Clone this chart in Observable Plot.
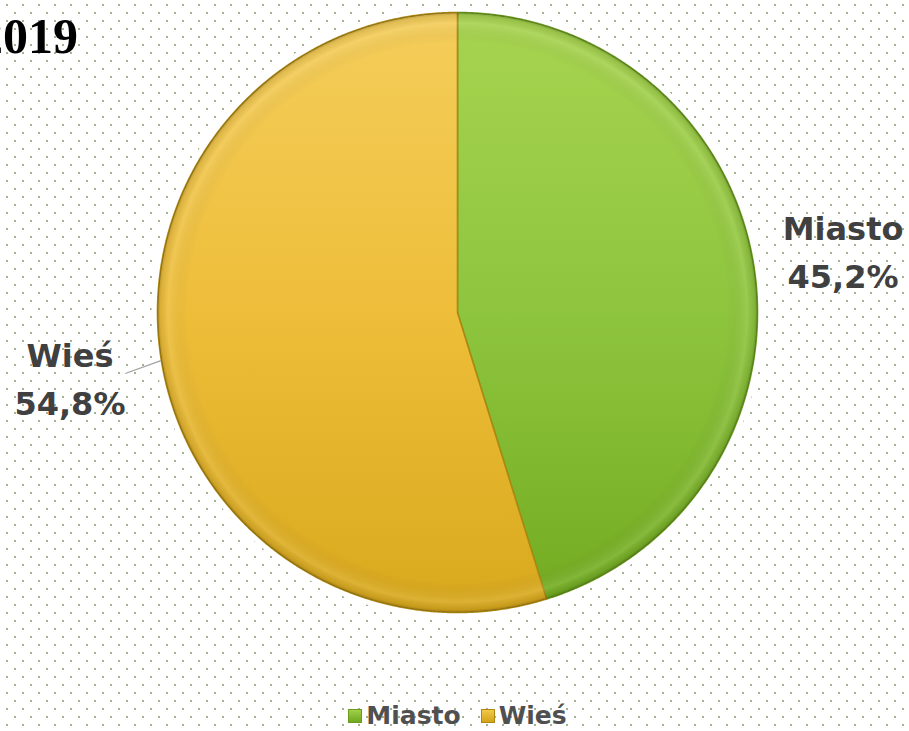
<!DOCTYPE html>
<html>
<head>
<meta charset="utf-8">
<script src="https://cdn.jsdelivr.net/npm/d3@7"></script>
<script src="https://cdn.jsdelivr.net/npm/@observablehq/plot@0.6"></script>
<style>
html, body { margin: 0; padding: 0; }
body {
  width: 909px; height: 731px; overflow: hidden; position: relative;
  background-color: #ffffff;
  background-image: url("data:image/svg+xml;utf8,<svg xmlns='http://www.w3.org/2000/svg' width='16' height='16'><rect x='6' y='4' width='2' height='2' fill='%23a3b391'/><rect x='14' y='12' width='2' height='2' fill='%23a3b391'/></svg>");
}
#title {
  position: absolute; left: -22px; top: 11px; margin: 0;
  font: bold 50px "Liberation Serif", "Times New Roman", serif; line-height: 50px;
  color: #000; white-space: nowrap;
}
#chart { position: absolute; left: 0; top: 0; }
#legend {
  position: absolute; left: 0; top: 700px; width: 909px; height: 31px;
  display: flex; justify-content: center; align-items: center; gap: 20px;
  font: bold 25px "DejaVu Sans", sans-serif; color: #505050;
  padding-left: 6px; box-sizing: border-box;
}
.item { display: flex; align-items: center; gap: 4px; }
.sw { width: 14px; height: 14px; box-sizing: border-box; }
</style>
</head>
<body>
<div id="title">2019</div>
<div id="chart"></div>
<div id="legend"></div>
<script>
// ---- data ----
const categories = ["Miasto", "Wieś"];
const values = [45.2, 54.8];
const valueLabels = ["45,2%", "54,8%"];
const title = "2019";

// ---- style ----
const sliceStyle = {
  "Miasto": { grad: "gradMiasto", stroke: "#6a9a1e", top: "#a8d450", mid: "#8ec53e", bot: "#72ab20", sw: ["#9fd048", "#6fa820"] },
  "Wieś":   { grad: "gradWies",   stroke: "#ad8812", top: "#f4cd5a", mid: "#eebe3a", bot: "#d8a81c", sw: ["#f2c848", "#d4a418"] }
};

const W = 909, H = 690, CX = 457, CY = 312, R = 300;

// pie geometry (angles from 12 o'clock, clockwise) computed from the data
const arcs = d3.pie().sort(null)(values);
const slices = arcs.map((a, i) => {
  const pts = [{ x: 0, y: 0 }];
  const n = Math.ceil((a.endAngle - a.startAngle) / 0.005);
  for (let k = 0; k <= n; k++) {
    const t = a.startAngle + (a.endAngle - a.startAngle) * k / n;
    pts.push({ x: Math.sin(t), y: Math.cos(t) });
  }
  return { cat: categories[i], pts };
});
const labels = arcs.map((a, i) => {
  const m = (a.startAngle + a.endAngle) / 2;
  return { cat: categories[i], val: valueLabels[i], x: 1.3 * Math.sin(m), y: 1.3 * Math.cos(m), m };
});
const rightLabels = labels.filter(d => d.x >= 0);
const leftLabels = labels.filter(d => d.x < 0);
// leader line only for the label placed to the left
const leaders = leftLabels.map(d => ({
  x1: 1.0 * Math.sin(d.m), y1: 1.0 * Math.cos(d.m) - 0.01,
  x2: 1.12 * Math.sin(d.m), y2: 1.12 * Math.cos(d.m) - 0.035
}));

const textFont = { fontFamily: "DejaVu Sans", fontWeight: "bold", fontSize: 32, fill: "#404040" };

const marks = [
  Plot.dot([{ x: 0, y: 0 }], { x: "x", y: "y", r: R + 6, fill: "white", stroke: "none", ariaLabel: "halo" }),
  ...slices.map(s => Plot.line(s.pts, {
    x: "x", y: "y", curve: "linear-closed",
    fill: `url(#${sliceStyle[s.cat].grad})`,
    stroke: sliceStyle[s.cat].stroke, strokeWidth: 1.6, strokeLinejoin: "round"
  })),
  Plot.dot([{ x: 0, y: 0 }], { x: "x", y: "y", r: R, fill: "url(#rim)", stroke: "none" }),
  Plot.link(leaders, { x1: "x1", y1: "y1", x2: "x2", y2: "y2", stroke: "#a0a0a0", strokeWidth: 1.2 }),
  Plot.text(rightLabels, { x: "x", y: "y", text: "cat", dy: -24, ...textFont }),
  Plot.text(rightLabels, { x: "x", y: "y", text: "val", dy: 24, ...textFont }),
  Plot.text(leftLabels, { x: "x", y: "y", text: "cat", dy: -14, dx: -2, ...textFont }),
  Plot.text(leftLabels, { x: "x", y: "y", text: "val", dy: 34, dx: -2, ...textFont })
];

const svg = Plot.plot({
  width: W, height: H,
  marginTop: 0, marginRight: 0, marginBottom: 0, marginLeft: 0,
  x: { axis: null, domain: [-CX / R, (W - CX) / R] },
  y: { axis: null, domain: [-(H - CY) / R, CY / R] },
  style: { background: "transparent", overflow: "visible" },
  marks
});

// gradients / filters
const ns = "http://www.w3.org/2000/svg";
const defs = document.createElementNS(ns, "defs");
let html = "";
for (const c of categories) {
  const s = sliceStyle[c];
  html += `<linearGradient id="${s.grad}" gradientUnits="userSpaceOnUse" x1="0" y1="${CY - R}" x2="0" y2="${CY + R}">
    <stop offset="0" stop-color="${s.top}"/><stop offset="0.5" stop-color="${s.mid}"/><stop offset="1" stop-color="${s.bot}"/></linearGradient>`;
}
html += `<radialGradient id="rim" cx="0.5" cy="0.5" r="0.5">
  <stop offset="0.9" stop-color="#000" stop-opacity="0"/>
  <stop offset="0.965" stop-color="#fff" stop-opacity="0.10"/>
  <stop offset="0.99" stop-color="#000" stop-opacity="0.08"/>
  <stop offset="1" stop-color="#000" stop-opacity="0.25"/></radialGradient>
  <filter id="blur" x="-20%" y="-20%" width="140%" height="140%"><feGaussianBlur stdDeviation="4"/></filter>`;
defs.innerHTML = html;
svg.insertBefore(defs, svg.firstChild);
const halo = svg.querySelector('[aria-label="halo"]');
if (halo) halo.setAttribute("filter", "url(#blur)");
document.getElementById("chart").appendChild(svg);

// legend
const leg = document.getElementById("legend");
for (const c of categories) {
  const s = sliceStyle[c];
  const it = document.createElement("div"); it.className = "item";
  const sw = document.createElement("div"); sw.className = "sw";
  sw.style.background = `linear-gradient(${s.sw[0]}, ${s.sw[1]})`;
  sw.style.border = `1px solid ${s.stroke}`;
  const tx = document.createElement("span"); tx.textContent = c;
  it.appendChild(sw); it.appendChild(tx); leg.appendChild(it);
}
document.getElementById("title").textContent = title;
</script>
</body>
</html>
